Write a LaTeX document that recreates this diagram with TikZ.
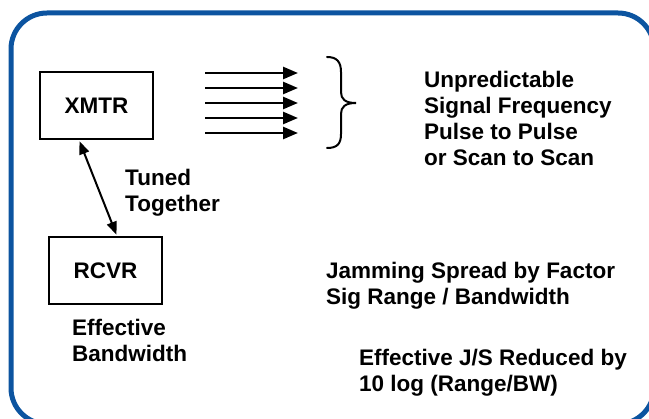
\documentclass[tikz,border=0pt]{standalone}
\usepackage{fontspec}
\setmainfont{Liberation Sans}
\usetikzlibrary{arrows.meta}
\definecolor{frameblue}{RGB}{12,84,160}
\tikzset{
  unitbox/.style={draw, line width=2.5pt, minimum width=113pt, minimum height=67pt,
    font=\bfseries\fontsize{22.5}{26}\selectfont},
  label/.style={inner sep=0pt, align=left, anchor=west,
    font=\bfseries\fontsize{22.5}{26}\selectfont},
  sigline/.style={line width=2.5pt, -{Triangle[length=15pt,width=12pt]}},
  tuneline/.style={line width=2pt, {Triangle[length=13pt,width=10pt]}-{Triangle[length=13pt,width=10pt]}}
}
\begin{document}
\begin{tikzpicture}[x=1pt,y=-1pt]
\useasboundingbox (0,0) rectangle (649,419);
\begin{scope}
  \clip (0,0) rectangle (649,419);
  \draw[frameblue, line width=5pt, rounded corners=36pt] (11,13) rectangle (654,424);
\end{scope}

% transmitter and receiver
\node[unitbox] (xmtr) at (96.5,105.5) {XMTR};
\node[unitbox] (rcvr) at (105.5,270.5) {RCVR};
\path (xmtr.south) ++(-17,1) coordinate (t1);
\path (rcvr.north) ++(11,-1) coordinate (t2);
\draw[tuneline] (t1) -- (t2);

% emitted signals
\foreach \k/\yy in {1/73,2/88,3/103,4/118,5/133}{
  \coordinate (s\k) at (205,\yy);
  \coordinate (e\k) at (298,\yy);
  \draw[sigline] (s\k) -- (e\k);
}

% brace grouping the signals
\draw[line width=2pt, line cap=round]
  (327,57) .. controls (337,57) and (341,62) .. (341,72) -- (341,92)
  .. controls (341,99) and (345,103) .. (356,103)
  .. controls (345,103) and (341,107) .. (341,114) -- (341,134)
  .. controls (341,144) and (337,148) .. (327,148);

% labels
\node[label] (unpred) at (424,118) {Unpredictable\\Signal Frequency\\Pulse to Pulse\\or Scan to Scan};
\node[label] (tuned) at (125,193) {Tuned\\Together};
\node[label] (effbw) at (72,340) {Effective\\Bandwidth};
\node[label] (jam) at (326,286) {Jamming Spread by Factor\\Sig Range / Bandwidth};
\node[label] (js) at (359,373) {Effective J/S Reduced by\\10 log (Range/BW)};
\end{tikzpicture}
\end{document}
